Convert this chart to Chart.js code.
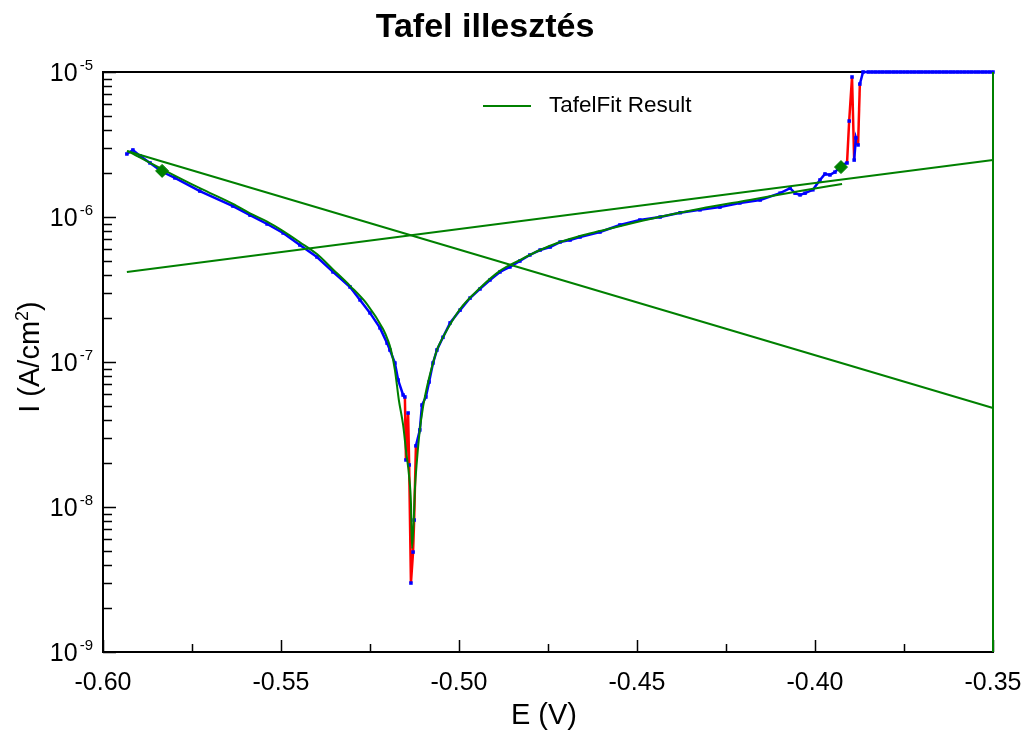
<!DOCTYPE html>
<html>
<head>
<meta charset="utf-8">
<title>Tafel illesztés</title>
<script src="https://cdn.jsdelivr.net/npm/chart.js@4"></script>
<style>
  body { margin: 0; background: #fff; }
  canvas { display: block; }
</style>
</head>
<body>
<canvas id="mychart" width="1032" height="737"></canvas>
<script>
// measured curve, E (V) and I (A/cm2)
var measE = [-0.5933, -0.5916, -0.5896, -0.5868, -0.5834, -0.5798, -0.5728, -0.5635, -0.5587, -0.5539,
    -0.5494, -0.5447, -0.5399, -0.5354, -0.5306, -0.5278, -0.5250, -0.5222, -0.5202, -0.5194,
    -0.5180, -0.5171, -0.5157, -0.5152, -0.5149, -0.5143, -0.5140, -0.5135, -0.5129, -0.5126,
    -0.5121, -0.5110, -0.5104, -0.5093, -0.5084, -0.5073, -0.5062, -0.5045, -0.5025, -0.4997,
    -0.4969, -0.4941, -0.4913, -0.4885, -0.4857, -0.4829, -0.4801, -0.4772, -0.4744, -0.4716,
    -0.4688, -0.4660, -0.4604, -0.4548, -0.4492, -0.4435, -0.4379, -0.4323, -0.4267, -0.4211,
    -0.4154, -0.4098, -0.4070, -0.4056, -0.4042, -0.4028, -0.4006, -0.3986, -0.3972, -0.3958,
    -0.3944, -0.3924, -0.3910, -0.3904, -0.3896, -0.3890, -0.3885, -0.3879, -0.3874, -0.3865,
    -0.385, -0.384, -0.383, -0.382, -0.381, -0.380, -0.379, -0.378, -0.377, -0.376,
    -0.375, -0.374, -0.373, -0.372, -0.371, -0.370, -0.369, -0.368, -0.367, -0.366,
    -0.365, -0.364, -0.363, -0.362, -0.361, -0.360, -0.359, -0.358, -0.357, -0.356,
    -0.355, -0.354, -0.353, -0.352, -0.351, -0.350];
var measI = [2.72e-6, 2.90e-6, 2.64e-6, 2.36e-6, 2.05e-6, 1.86e-6, 1.51e-6, 1.19e-6, 1.03e-6, 8.95e-7,
    7.76e-7, 6.41e-7, 5.30e-7, 4.18e-7, 3.29e-7, 2.68e-7, 2.18e-7, 1.72e-7, 1.35e-7, 1.21e-7,
    9.84e-8, 7.51e-8, 5.92e-8, 5.74e-8, 2.11e-8, 4.45e-8, 1.95e-8, 2.99e-9, 4.89e-9, 8.13e-9,
    2.64e-8, 3.40e-8, 5.05e-8, 5.74e-8, 7.28e-8, 9.84e-8, 1.21e-7, 1.48e-7, 1.86e-7, 2.28e-7,
    2.76e-7, 3.19e-7, 3.68e-7, 4.18e-7, 4.52e-7, 4.97e-7, 5.47e-7, 5.92e-7, 6.21e-7, 6.72e-7,
    6.94e-7, 7.28e-7, 7.88e-7, 8.81e-7, 9.53e-7, 1.00e-6, 1.07e-6, 1.12e-6, 1.17e-6, 1.25e-6,
    1.31e-6, 1.46e-6, 1.58e-6, 1.46e-6, 1.42e-6, 1.46e-6, 1.54e-6, 1.80e-6, 1.98e-6, 1.95e-6,
    2.04e-6, 2.28e-6, 2.36e-6, 4.59e-6, 9.24e-6, 2.47e-6, 3.51e-6, 3.14e-6, 8.26e-6, 1e-5,
    1e-5, 1e-5, 1e-5, 1e-5, 1e-5, 1e-5, 1e-5, 1e-5, 1e-5, 1e-5,
    1e-5, 1e-5, 1e-5, 1e-5, 1e-5, 1e-5, 1e-5, 1e-5, 1e-5, 1e-5,
    1e-5, 1e-5, 1e-5, 1e-5, 1e-5, 1e-5, 1e-5, 1e-5, 1e-5, 1e-5,
    1e-5, 1e-5, 1e-5, 1e-5, 1e-5, 1e-5];

// fitted curve
var fitE = [-0.5930, -0.5834, -0.5728, -0.5635, -0.5587, -0.5539, -0.5494, -0.5447, -0.5399, -0.5354,
    -0.5306, -0.5258, -0.5213, -0.5199, -0.5191, -0.5180, -0.5169, -0.5157, -0.5149, -0.5140,
    -0.5135, -0.5132, -0.5126, -0.5124, -0.5118, -0.5110, -0.5101, -0.5090, -0.5076, -0.5062,
    -0.5045, -0.4997, -0.4941, -0.4885, -0.4829, -0.4772, -0.4716, -0.4660, -0.4604, -0.4463,
    -0.4323, -0.4183, -0.4042, -0.3924];
var fitI = [2.85e-6, 2.14e-6, 1.58e-6, 1.23e-6, 1.06e-6, 9.30e-7, 8.00e-7, 6.70e-7, 5.55e-7, 4.35e-7,
    3.35e-7, 2.50e-7, 1.68e-7, 1.40e-7, 1.21e-7, 8.81e-8, 5.47e-8, 3.68e-8, 2.47e-8, 1.61e-8,
    1.07e-8, 5.2e-9, 9.53e-9, 1.31e-8, 2.11e-8, 3.40e-8, 4.90e-8, 6.73e-8, 9.25e-8, 1.21e-7,
    1.48e-7, 2.32e-7, 3.24e-7, 4.25e-7, 5.05e-7, 5.92e-7, 6.72e-7, 7.40e-7, 8.00e-7, 9.69e-7,
    1.14e-6, 1.31e-6, 1.51e-6, 1.69e-6];

// Tafel lines
var cathE = [-0.5933, -0.35];
var cathI = [2.85e-6, 4.82e-8];
var anodE = [-0.5933, -0.35];
var anodI = [4.18e-7, 2.47e-6];
var edgeE = [-0.35, -0.35];
var edgeI = [1e-5, 1e-9];

// fit range markers
var markE = [-0.5834, -0.3927];
var markI = [2.08e-6, 2.21e-6];

// axes
var xTicks = [-0.60, -0.55, -0.50, -0.45, -0.40, -0.35];
var xLabels = ['-0.60', '-0.55', '-0.50', '-0.45', '-0.40', '-0.35'];
var xMinor = [-0.575, -0.525, -0.475, -0.425, -0.375];
var yTicks = [1e-9, 1e-8, 1e-7, 1e-6, 1e-5];
var yExp = ['-9', '-8', '-7', '-6', '-5'];

var FONT = '"Liberation Sans", Arial, sans-serif';
var GREEN = '#008000';

function pts(xs, ys) {
    return xs.map(function(v, i) { return {x: v, y: ys[i]}; });
}

var frame = {
    id: 'frame',
    beforeDatasetsDraw: function(chart) {
        var ctx = chart.ctx, a = chart.chartArea;
        var x = chart.scales.x, y = chart.scales.y;
        ctx.save();
        ctx.strokeStyle = '#000';
        ctx.lineWidth = 2;
        ctx.strokeRect(a.left, a.top, a.right - a.left, a.bottom - a.top);
        ctx.lineWidth = 1.5;
        ctx.beginPath();
        xTicks.forEach(function(v) {
            var px = Math.round(x.getPixelForValue(v)) + 0.5;
            ctx.moveTo(px, a.bottom); ctx.lineTo(px, a.bottom - 12);
        });
        xMinor.forEach(function(v) {
            var px = Math.round(x.getPixelForValue(v)) + 0.5;
            ctx.moveTo(px, a.bottom); ctx.lineTo(px, a.bottom - 8);
        });
        yTicks.forEach(function(v, i) {
            var py = Math.round(y.getPixelForValue(v)) + 0.5;
            ctx.moveTo(a.left, py); ctx.lineTo(a.left + 13, py);
            if (i < yTicks.length - 1) {
                for (var m = 2; m <= 9; m++) {
                    var pm = Math.round(y.getPixelForValue(v * m)) + 0.5;
                    ctx.moveTo(a.left, pm); ctx.lineTo(a.left + 9, pm);
                }
            }
        });
        ctx.stroke();
        ctx.restore();
    },
    afterDraw: function(chart) {
        var ctx = chart.ctx, a = chart.chartArea;
        var x = chart.scales.x, y = chart.scales.y;
        ctx.save();
        ctx.fillStyle = '#000';

        // title
        ctx.font = 'bold 34px ' + FONT;
        ctx.textAlign = 'center';
        ctx.textBaseline = 'alphabetic';
        ctx.fillText('Tafel illesztés', 485, 37);

        // x tick labels
        ctx.font = '25px ' + FONT;
        xTicks.forEach(function(v, i) {
            ctx.fillText(xLabels[i], x.getPixelForValue(v), a.bottom + 38);
        });

        // y tick labels 10^n
        ctx.textAlign = 'right';
        yTicks.forEach(function(v, i) {
            var py = y.getPixelForValue(v);
            var right = a.left - 10;
            ctx.font = '15px ' + FONT;
            var w = ctx.measureText(yExp[i]).width;
            ctx.fillText(yExp[i], right, py - 2);
            ctx.font = '25px ' + FONT;
            ctx.fillText('10', right - w - 2, py + 9);
        });

        // x axis title
        ctx.textAlign = 'center';
        ctx.font = '29px ' + FONT;
        ctx.fillText('E (V)', 544, 724);

        // y axis title with superscript
        ctx.translate(39, 357);
        ctx.rotate(-Math.PI / 2);
        var p1 = 'I (A/cm', p2 = '2', p3 = ')';
        ctx.font = '29px ' + FONT;
        var w1 = ctx.measureText(p1).width, w3 = ctx.measureText(p3).width;
        ctx.font = '18px ' + FONT;
        var w2 = ctx.measureText(p2).width;
        var sx = -(w1 + w2 + w3) / 2;
        ctx.textAlign = 'left';
        ctx.font = '29px ' + FONT;
        ctx.fillText(p1, sx, 0);
        ctx.font = '18px ' + FONT;
        ctx.fillText(p2, sx + w1, -11);
        ctx.font = '29px ' + FONT;
        ctx.fillText(p3, sx + w1 + w2, 0);
        ctx.setTransform(1, 0, 0, 1, 0, 0);

        // legend
        ctx.strokeStyle = GREEN;
        ctx.lineWidth = 2;
        ctx.beginPath();
        ctx.moveTo(483, 106); ctx.lineTo(531, 106);
        ctx.stroke();
        ctx.textAlign = 'left';
        ctx.textBaseline = 'middle';
        ctx.font = '22.5px ' + FONT;
        ctx.fillText('TafelFit Result', 549, 106);
        ctx.restore();
    }
};

var myChart = new Chart(document.getElementById('mychart'), {
    type: 'scatter',
    data: {
        datasets: [{
            label: 'Measured',
            data: pts(measE, measI),
            showLine: true,
            borderColor: '#0000ff',
            borderWidth: 2.5,
            segment: {
                borderColor: function(c) {
                    return Math.abs(c.p1.y - c.p0.y) > 25 ? '#ff0000' : '#0000ff';
                }
            },
            pointStyle: 'rect',
            pointRadius: 2.5,
            pointBorderWidth: 0,
            pointBackgroundColor: '#0000ff',
            clip: false,
            order: 5
        }, {
            label: 'TafelFit Result',
            data: pts(fitE, fitI),
            showLine: true,
            borderColor: GREEN,
            borderWidth: 2,
            cubicInterpolationMode: 'monotone',
            pointRadius: 0,
            clip: false,
            order: 3
        }, {
            label: 'Cathodic',
            data: pts(cathE, cathI),
            showLine: true,
            borderColor: GREEN,
            borderWidth: 2,
            pointRadius: 0,
            clip: false,
            order: 2
        }, {
            label: 'Anodic',
            data: pts(anodE, anodI),
            showLine: true,
            borderColor: GREEN,
            borderWidth: 2,
            pointRadius: 0,
            clip: false,
            order: 2
        }, {
            label: 'Edge',
            data: pts(edgeE, edgeI),
            showLine: true,
            borderColor: GREEN,
            borderWidth: 2,
            pointRadius: 0,
            clip: false,
            order: 2
        }, {
            label: 'Range',
            data: pts(markE, markI),
            showLine: false,
            pointStyle: 'rectRot',
            pointRadius: 6.5,
            pointBackgroundColor: GREEN,
            pointBorderColor: GREEN,
            pointBorderWidth: 1,
            clip: false,
            order: 1
        }]
    },
    options: {
        responsive: false,
        animation: false,
        layout: {
            padding: { left: 103, right: 39, top: 72, bottom: 85 }
        },
        plugins: {
            legend: { display: false },
            tooltip: { enabled: false }
        },
        scales: {
            x: { type: 'linear', min: -0.60, max: -0.35, display: false },
            y: { type: 'logarithmic', min: 1e-9, max: 1e-5, display: false }
        }
    },
    plugins: [frame]
});
</script>
</body>
</html>
